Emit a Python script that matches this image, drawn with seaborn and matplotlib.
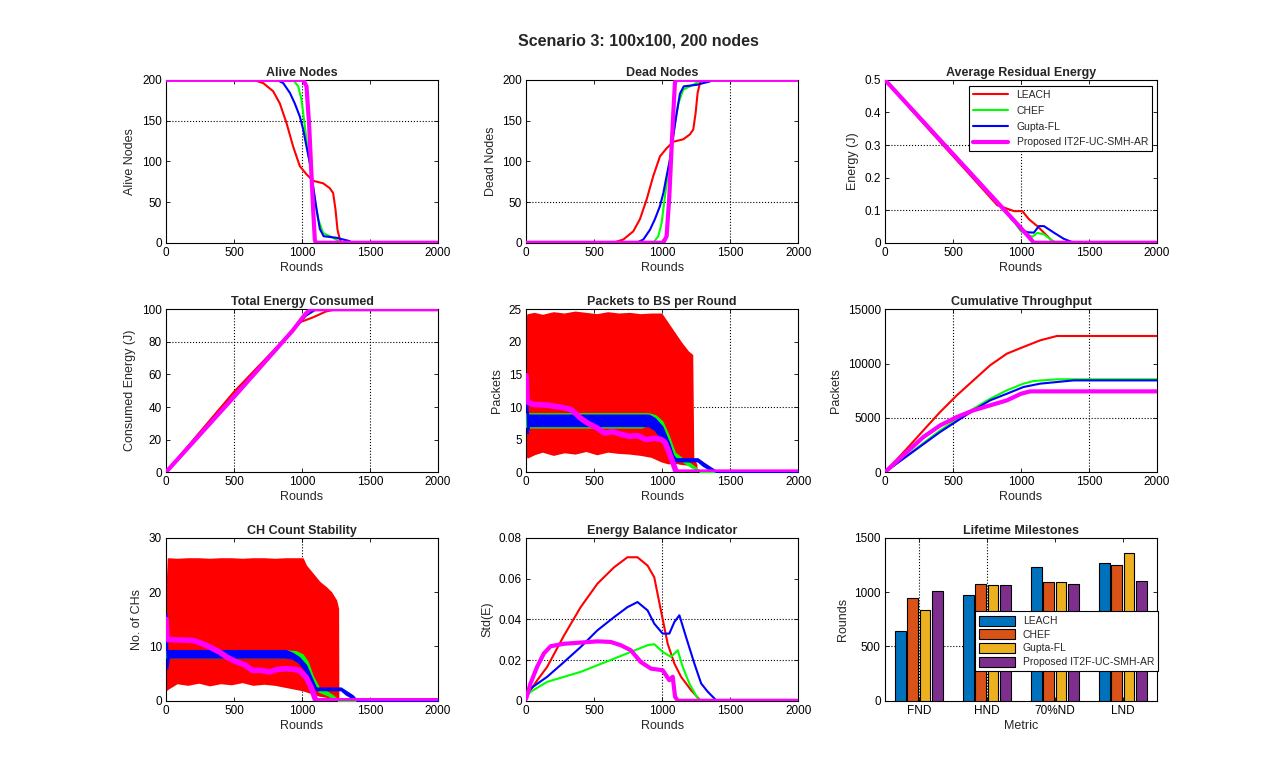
import matplotlib
matplotlib.use('Agg')
import matplotlib.pyplot as plt
from matplotlib.ticker import FormatStrFormatter
import seaborn as sns
import pandas as pd

# ---- protocols / colours
protocols = ['LEACH', 'CHEF', 'Gupta-FL', 'Proposed IT2F-UC-SMH-AR']
line_colors = ['#FF0000', '#00FF00', '#0000FF', '#FF00FF']
bar_colors = ['#0072BD', '#D95319', '#EDB120', '#7E2F8E']

# ---- alive nodes (dead nodes = 200 - alive)
leach_alive_x = [0, 641, 715, 788, 837, 886, 935, 984, 1033, 1082, 1155, 1204, 1229, 1246, 1261, 1278, 1292, 2000]
leach_alive = [200, 200, 196, 186, 171, 147, 118, 94, 84, 76, 73, 67, 61, 41, 16, 4, 0, 0]
chef_alive_x = [0, 935, 972, 996, 1021, 1045, 1070, 1094, 1119, 1155, 1229, 1278, 1290, 2000]
chef_alive = [200, 200, 192, 176, 143, 110, 82, 53, 29, 12, 6, 1, 0, 0]
gupta_alive_x = [0, 813, 862, 911, 947, 984, 1009, 1033, 1058, 1082, 1107, 1131, 1159, 1257, 1302, 1351, 1360, 2000]
gupta_alive = [200, 200, 196, 184, 171, 155, 139, 118, 98, 69, 41, 17, 8, 6, 4, 2, 0, 0]
prop_alive_x = [0, 1009, 1033, 1053, 1070, 1082, 1094, 1100, 2000]
prop_alive = [200, 200, 192, 143, 82, 41, 4, 0, 0]

# ---- average residual energy
leach_avg_x = [0, 200, 400, 600, 826, 875, 949, 1010, 1059, 1120, 1181, 1230, 1250, 2000]
leach_avg = [0.5, 0.405, 0.312, 0.220, 0.115, 0.108, 0.097, 0.097, 0.072, 0.051, 0.026, 0.005, 0, 0]
chef_avg_x = [0, 200, 400, 600, 850, 949, 1000, 1050, 1083, 1120, 1169, 1218, 1260, 2000]
chef_avg = [0.5, 0.408, 0.316, 0.225, 0.112, 0.065, 0.035, 0.025, 0.018, 0.030, 0.026, 0.010, 0, 0]
gupta_avg_x = [0, 200, 400, 600, 850, 949, 1000, 1050, 1095, 1132, 1169, 1242, 1315, 1376, 1400, 2000]
gupta_avg = [0.5, 0.408, 0.316, 0.225, 0.112, 0.066, 0.040, 0.032, 0.031, 0.051, 0.051, 0.031, 0.012, 0.002, 0, 0]
prop_avg_x = [0, 400, 851, 1000, 1095, 2000]
prop_avg = [0.5, 0.318, 0.113, 0.045, 0, 0]

# ---- total energy consumed
leach_te_x = [0, 500, 930, 979, 1077, 1175, 1248, 2000]
leach_te = [0, 49.3, 86.8, 91.9, 94.9, 98.6, 100, 100]
chef_te_x = [0, 500, 930, 1030, 1110, 2000]
chef_te = [0, 46.8, 86.8, 96.5, 100, 100]
gupta_te_x = [0, 500, 930, 1028, 1101, 2000]
gupta_te = [0, 47.2, 86.8, 96.0, 100, 100]
prop_te_x = [0, 500, 930, 1028, 1065, 2000]
prop_te = [0, 46.2, 86.8, 97.4, 100, 100]

# ---- packets to BS per round (oscillating series kept as envelopes)
leach_pk_x = [0, 10, 60, 120, 200, 280, 360, 440, 520, 600, 680, 760, 840, 920, 994, 1043, 1092, 1141, 1190, 1219, 1227, 1250]
leach_pk_hi = [20, 24.2, 24.4, 24.1, 24.5, 24.3, 24.6, 24.4, 24.2, 24.5, 24.3, 24.4, 24.2, 24.3, 24.3, 22.8, 21.3, 19.8, 18.5, 18.0, 2.0, 1.2]
leach_pk_lo = [5, 2.3, 2.8, 3.2, 2.7, 3.1, 2.9, 3.3, 2.8, 3.2, 3.0, 2.9, 2.7, 2.4, 1.7, 1.4, 1.5, 1.3, 1.2, 1.0, 0.8, 0.6]
chef_pk_x = [0, 20, 850, 900, 950, 1000, 1043, 1092, 1141, 1214, 1288, 2000]
chef_pk_hi = [9.0, 9.0, 9.0, 9.0, 8.7, 7.8, 5.8, 3.0, 2.2, 1.2, 0, 0]
chef_pk_lo = [7.0, 6.9, 6.9, 7.3, 7.0, 6.5, 4.5, 2.2, 1.8, 0.8, 0, 0]
gupta_pk_x = [0, 10, 20, 900, 945, 1000, 1050, 1080, 1100, 1260, 1300, 1350, 1411, 2000]
gupta_pk_hi = [15, 9, 8.8, 8.8, 8.3, 7.0, 4.5, 2.6, 2.1, 2.1, 1.5, 0.8, 0, 0]
gupta_pk_lo = [13, 6, 7.1, 7.1, 6.5, 5.0, 3.0, 2.0, 1.7, 1.7, 1.0, 0.4, 0, 0]
prop_pk_x = [0, 8, 50, 150, 250, 331, 400, 454, 520, 577, 640, 699, 760, 822, 880, 945, 994, 1020, 1043, 1080, 1104, 2000]
prop_pk = [14.8, 10.8, 10.4, 10.3, 10.0, 9.6, 8.3, 7.5, 6.8, 6.0, 6.2, 5.8, 5.5, 5.6, 5.0, 5.2, 5.0, 4.6, 3.5, 1.4, 0, 0]

# ---- cumulative throughput
leach_tp_x = [0, 160, 282, 405, 528, 650, 773, 896, 1018, 1141, 1264, 2000]
leach_tp = [0, 2150, 3840, 5530, 7070, 8450, 9840, 10910, 11530, 12140, 12540, 12540]
chef_tp_x = [0, 405, 650, 773, 896, 1018, 1092, 1264, 2000]
chef_tp = [0, 3840, 5840, 6760, 7530, 8150, 8390, 8550, 8550]
gupta_tp_x = [0, 405, 650, 773, 896, 1018, 1141, 1387, 2000]
gupta_tp = [0, 3690, 5690, 6610, 7220, 7840, 8150, 8450, 8450]
prop_tp_x = [0, 160, 282, 405, 528, 650, 773, 896, 1000, 1067, 2000]
prop_tp = [0, 1840, 3230, 4300, 5070, 5690, 6150, 6610, 7220, 7440, 7440]

# ---- CH count stability
leach_ch_x = [0, 15, 80, 160, 240, 320, 400, 480, 560, 640, 720, 800, 881, 1004, 1028, 1077, 1126, 1175, 1212, 1249, 1263, 1265]
leach_ch_hi = [17, 26.2, 26.1, 26.2, 26.2, 26.1, 26.2, 26.2, 26.1, 26.2, 26.2, 26.1, 26.2, 26.2, 24.9, 23.4, 21.9, 20.9, 20.0, 18.5, 17.0, 0]
leach_ch_lo = [2, 2.3, 3.3, 3.0, 3.4, 2.9, 3.3, 3.1, 3.5, 3.0, 3.2, 3.0, 2.6, 2.0, 1.8, 1.4, 1.0, 0.8, 0.6, 0.5, 0.4, 0]
chef_ch_x = [0, 20, 900, 955, 1004, 1040, 1077, 1126, 1175, 1224, 1273, 2000]
chef_ch_hi = [9.2, 9.2, 9.2, 9.1, 8.5, 7.2, 4.6, 2.3, 1.8, 1.0, 0, 0]
chef_ch_lo = [8.0, 8.0, 8.0, 8.2, 7.5, 5.8, 3.4, 1.7, 1.2, 0.6, 0, 0]
gupta_ch_x = [0, 8, 20, 881, 930, 979, 1028, 1065, 1102, 1285, 1322, 1371, 1408, 2000]
gupta_ch_hi = [16, 9.3, 9.3, 9.3, 8.8, 8.0, 6.6, 4.5, 2.4, 2.4, 1.8, 1.0, 0, 0]
gupta_ch_lo = [14, 6, 8.0, 8.0, 7.8, 7.0, 5.4, 3.5, 2.0, 2.0, 1.2, 0.5, 0, 0]
prop_ch_x = [0, 8, 100, 200, 269, 330, 392, 450, 514, 580, 636, 700, 759, 820, 881, 940, 979, 1028, 1065, 1102, 2000]
prop_ch = [15, 11.3, 11.2, 11.1, 10.5, 9.8, 9.0, 8.0, 7.2, 6.6, 5.6, 5.6, 5.3, 5.8, 5.9, 5.8, 5.6, 4.4, 2.6, 0, 0]

# ---- energy balance indicator
leach_std_x = [0, 81, 155, 278, 401, 524, 647, 745, 819, 893, 942, 991, 1041, 1090, 1139, 1213, 1274, 1290, 2000]
leach_std = [0.002, 0.010, 0.0167, 0.032, 0.046, 0.0575, 0.0656, 0.0705, 0.0705, 0.0664, 0.0607, 0.0444, 0.028, 0.0183, 0.0118, 0.0052, 0.0007, 0, 0]
chef_std_x = [0, 32, 155, 401, 647, 770, 893, 942, 1004, 1065, 1115, 1151, 1200, 1262, 1280, 2000]
chef_std = [0.002, 0.0044, 0.0093, 0.0142, 0.0207, 0.024, 0.0273, 0.0278, 0.024, 0.0216, 0.0248, 0.0167, 0.0085, 0.0011, 0, 0]
gupta_std_x = [0, 32, 155, 278, 401, 524, 647, 745, 819, 893, 942, 1004, 1053, 1090, 1127, 1176, 1237, 1287, 1336, 1385, 1400, 2000]
gupta_std = [0.002, 0.006, 0.0118, 0.019, 0.0264, 0.0346, 0.0411, 0.046, 0.0485, 0.0444, 0.0379, 0.033, 0.033, 0.0387, 0.042, 0.0313, 0.0183, 0.0085, 0.0044, 0.0011, 0, 0]
prop_std_x = [0, 32, 81, 130, 180, 278, 524, 622, 696, 770, 844, 918, 1004, 1053, 1078, 1095, 1115, 2000]
prop_std = [0.001, 0.0085, 0.0167, 0.0232, 0.0268, 0.028, 0.0292, 0.0289, 0.0273, 0.0248, 0.019, 0.0158, 0.015, 0.0101, 0.0118, 0.002, 0, 0]

# ---- lifetime milestones
milestones = ['FND', 'HND', '70%ND', 'LND']
leach_ms = [640, 976, 1232, 1269]
chef_ms = [949, 1077, 1098, 1249]
gupta_ms = [833, 1067, 1098, 1359]
prop_ms = [1013, 1067, 1080, 1104]

sns.set_style('ticks')
plt.rcParams['font.family'] = ['Liberation Sans Narrow', 'Liberation Sans', 'DejaVu Sans']
plt.rcParams['axes.edgecolor'] = 'black'
plt.rcParams['axes.linewidth'] = 0.8
plt.rcParams['xtick.color'] = 'black'
plt.rcParams['ytick.color'] = 'black'

fig = plt.figure(figsize=(12.77, 7.83), dpi=100)
lefts = [0.130, 0.412, 0.693]
bottoms = [0.690, 0.397, 0.105]
W, H = 0.213, 0.208
axes = [[fig.add_axes([l, b, W, H]) for l in lefts] for b in bottoms]


def style(ax, title, ylabel, xlabel='Rounds', hgrid=(), vgrid=()):
    ax.set_title(title, fontsize=9, fontweight='bold', pad=3)
    ax.set_ylabel(ylabel, fontsize=9)
    ax.set_xlabel(xlabel, fontsize=9, labelpad=2)
    ax.tick_params(direction='in', top=True, right=True, labelsize=8.5, length=3, width=0.6, pad=3)
    ax.yaxis.set_major_formatter(FormatStrFormatter('%g'))
    for v in hgrid:
        ax.axhline(v, color='k', ls=':', lw=0.8, zorder=0.5)
    for v in vgrid:
        ax.axvline(v, color='k', ls=':', lw=0.8, zorder=0.5)
    for s in ax.spines.values():
        s.set_visible(True)


def lines(ax, series, labels=None):
    for i, (xs, ys) in enumerate(series):
        lw = 3 if i == 3 else 1.5
        sns.lineplot(x=xs, y=ys, ax=ax, color=line_colors[i], lw=lw,
                     estimator=None, sort=False,
                     label=labels[i] if labels else None, zorder=3 + i)


def rounds_axis(ax):
    ax.set_xlim(0, 2000)
    ax.set_xticks([0, 500, 1000, 1500, 2000])


# Alive nodes
ax = axes[0][0]
lines(ax, [(leach_alive_x, leach_alive), (chef_alive_x, chef_alive),
           (gupta_alive_x, gupta_alive), (prop_alive_x, prop_alive)])
rounds_axis(ax)
ax.set_ylim(0, 200)
ax.set_yticks([0, 50, 100, 150, 200])
style(ax, 'Alive Nodes', 'Alive Nodes', hgrid=[150], vgrid=[1000])

# Dead nodes
ax = axes[0][1]
lines(ax, [(leach_alive_x, [200 - v for v in leach_alive]),
           (chef_alive_x, [200 - v for v in chef_alive]),
           (gupta_alive_x, [200 - v for v in gupta_alive]),
           (prop_alive_x, [200 - v for v in prop_alive])])
rounds_axis(ax)
ax.set_ylim(0, 200)
ax.set_yticks([0, 50, 100, 150, 200])
style(ax, 'Dead Nodes', 'Dead Nodes', hgrid=[50], vgrid=[1500])

# Average residual energy
ax = axes[0][2]
lines(ax, [(leach_avg_x, leach_avg), (chef_avg_x, chef_avg),
           (gupta_avg_x, gupta_avg), (prop_avg_x, prop_avg)], labels=protocols)
rounds_axis(ax)
ax.set_ylim(0, 0.5)
ax.set_yticks([0, 0.1, 0.2, 0.3, 0.4, 0.5])
style(ax, 'Average Residual Energy', 'Energy (J)', hgrid=[0.1, 0.3], vgrid=[1000])
leg = ax.legend(loc='upper right', bbox_to_anchor=(0.982, 0.963), borderaxespad=0,
                fontsize=7.5, handlelength=3.4, labelspacing=0.55, fancybox=False,
                framealpha=1, edgecolor='black')
leg.get_frame().set_linewidth(0.8)
leg.set_zorder(20)

# Total energy consumed
ax = axes[1][0]
lines(ax, [(leach_te_x, leach_te), (chef_te_x, chef_te),
           (gupta_te_x, gupta_te), (prop_te_x, prop_te)])
rounds_axis(ax)
ax.set_ylim(0, 100)
ax.set_yticks([0, 20, 40, 60, 80, 100])
style(ax, 'Total Energy Consumed', 'Consumed Energy (J)', hgrid=[80], vgrid=[500, 1500])

# Packets to BS per round
ax = axes[1][1]
ax.fill_between(leach_pk_x, leach_pk_lo, leach_pk_hi, color=line_colors[0], lw=1.2, edgecolor=line_colors[0], zorder=2)
ax.fill_between(chef_pk_x, chef_pk_lo, chef_pk_hi, color=line_colors[1], lw=1.2, edgecolor=line_colors[1], zorder=3)
ax.fill_between(gupta_pk_x, gupta_pk_lo, gupta_pk_hi, color=line_colors[2], lw=1.2, edgecolor=line_colors[2], zorder=4)
sns.lineplot(x=prop_pk_x, y=prop_pk, ax=ax, color=line_colors[3], lw=4, estimator=None, sort=False, zorder=6)
rounds_axis(ax)
ax.set_ylim(0, 25)
ax.set_yticks([0, 5, 10, 15, 20, 25])
style(ax, 'Packets to BS per Round', 'Packets', hgrid=[10], vgrid=[1500])

# Cumulative throughput
ax = axes[1][2]
lines(ax, [(leach_tp_x, leach_tp), (chef_tp_x, chef_tp),
           (gupta_tp_x, gupta_tp), (prop_tp_x, prop_tp)])
rounds_axis(ax)
ax.set_ylim(0, 15000)
ax.set_yticks([0, 5000, 10000, 15000])
style(ax, 'Cumulative Throughput', 'Packets', hgrid=[5000], vgrid=[500, 1500])

# CH count stability
ax = axes[2][0]
ax.fill_between(leach_ch_x, leach_ch_lo, leach_ch_hi, color=line_colors[0], lw=1.2, edgecolor=line_colors[0], zorder=2)
ax.fill_between(chef_ch_x, chef_ch_lo, chef_ch_hi, color=line_colors[1], lw=1.2, edgecolor=line_colors[1], zorder=3)
ax.fill_between(gupta_ch_x, gupta_ch_lo, gupta_ch_hi, color=line_colors[2], lw=1.2, edgecolor=line_colors[2], zorder=4)
sns.lineplot(x=prop_ch_x, y=prop_ch, ax=ax, color=line_colors[3], lw=4, estimator=None, sort=False, zorder=6)
rounds_axis(ax)
ax.set_ylim(0, 30)
ax.set_yticks([0, 10, 20, 30])
style(ax, 'CH Count Stability', 'No. of CHs', vgrid=[1000])

# Energy balance indicator
ax = axes[2][1]
lines(ax, [(leach_std_x, leach_std), (chef_std_x, chef_std),
           (gupta_std_x, gupta_std), (prop_std_x, prop_std)])
rounds_axis(ax)
ax.set_ylim(0, 0.08)
ax.set_yticks([0, 0.02, 0.04, 0.06, 0.08])
style(ax, 'Energy Balance Indicator', 'Std(E)', hgrid=[0.02, 0.04], vgrid=[1000])

# Lifetime milestones
ax = axes[2][2]
ms_df = pd.DataFrame({
    'Metric': milestones * 4,
    'Rounds': leach_ms + chef_ms + gupta_ms + prop_ms,
    'Protocol': [p for p in protocols for _ in milestones],
})
sns.barplot(data=ms_df, x='Metric', y='Rounds', hue='Protocol', palette=bar_colors,
            saturation=1, width=0.72, gap=0.12, edgecolor='black', linewidth=0.8,
            ax=ax, zorder=3)
ax.set_xlim(-0.5, 3.5)
ax.set_ylim(0, 1500)
ax.set_yticks([0, 500, 1000, 1500])
style(ax, 'Lifetime Milestones', 'Rounds', xlabel='Metric', hgrid=[500], vgrid=[0, 1])
leg = ax.legend(loc='upper left', bbox_to_anchor=(0.331, 0.549), borderaxespad=0,
                fontsize=7.5, handlelength=3.4, handleheight=1.1, labelspacing=0.3,
                fancybox=False, framealpha=1, edgecolor='black', title=None)
leg.get_frame().set_linewidth(0.8)
leg.set_zorder(20)

fig.text(0.5, 0.948, 'Scenario 3: 100x100, 200 nodes', ha='center', va='center',
         fontsize=11.5, fontweight='bold')

fig.savefig('out.png', dpi=100)
